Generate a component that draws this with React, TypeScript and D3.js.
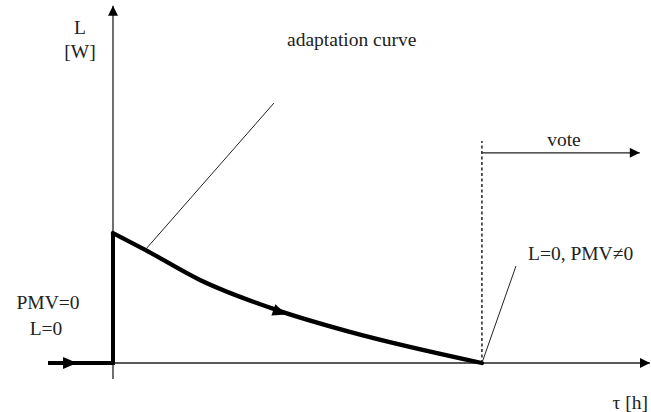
import React, { useRef, useEffect } from "react";
import * as d3 from "d3";

// adaptation curve (tau in h, L in W, arbitrary units)
const curveTau = [0, 0.6, 1.62, 3.11, 4.41, 6.87];
const curveL = [3.63, 3.16, 2.32, 1.45, 0.87, 0];
const startTau = -1.21; // steady state before the step
const leftArrowTau = -0.8;
const voteTau = 6.87;
const voteEndTau = 9.81;
const voteL = 5.87;
const dashTopL = 6.2;
const arrowIdx = 3; // arrow on the curve

const App = () => {
  const ref = useRef<SVGSVGElement>(null);

  useEffect(() => {
    const width = 651;
    const height = 412;
    const svg = d3.select(ref.current);
    svg.selectAll("*").remove();

    const x = d3.scaleLinear().domain([0, 10]).range([113, 650]);
    const y = d3.scaleLinear().domain([0, 10]).range([363, 5]);
    const font = "Liberation Serif, DejaVu Serif, Times New Roman, serif";

    const defs = svg.append("defs");
    defs
      .append("marker")
      .attr("id", "head")
      .attr("viewBox", "0 0 10 10")
      .attr("refX", 10)
      .attr("refY", 5)
      .attr("markerWidth", 11)
      .attr("markerHeight", 10)
      .attr("markerUnits", "userSpaceOnUse")
      .attr("orient", "auto")
      .append("path")
      .attr("d", "M0,0 L10,5 L0,10 Z")
      .attr("fill", "#000");

    // axes
    svg
      .append("line")
      .attr("x1", x(0))
      .attr("x2", x(0))
      .attr("y1", y(-0.45))
      .attr("y2", y(9.98))
      .attr("stroke", "#222")
      .attr("stroke-width", 1.3)
      .attr("marker-end", "url(#head)");
    svg
      .append("line")
      .attr("x1", x(0))
      .attr("x2", x(10))
      .attr("y1", y(0))
      .attr("y2", y(0))
      .attr("stroke", "#222")
      .attr("stroke-width", 1.3)
      .attr("marker-end", "url(#head)");

    // dashed vote boundary + vote arrow
    svg
      .append("line")
      .attr("x1", x(voteTau))
      .attr("x2", x(voteTau))
      .attr("y1", y(0))
      .attr("y2", y(dashTopL))
      .attr("stroke", "#222")
      .attr("stroke-width", 1.5)
      .attr("stroke-dasharray", "3,2.5");
    svg
      .append("line")
      .attr("x1", x(voteTau))
      .attr("x2", x(voteEndTau))
      .attr("y1", y(voteL))
      .attr("y2", y(voteL))
      .attr("stroke", "#222")
      .attr("stroke-width", 1.3)
      .attr("marker-end", "url(#head)");

    // thick step + curve
    const line = d3
      .line<[number, number]>()
      .x((d) => x(d[0]))
      .y((d) => y(d[1]));
    const step: [number, number][] = [
      [startTau, 0],
      [0, 0],
      [0, curveL[0]],
    ];
    svg
      .append("path")
      .attr("d", line(step))
      .attr("fill", "none")
      .attr("stroke", "#000")
      .attr("stroke-width", 4)
      .attr("stroke-linejoin", "miter");

    const pts: [number, number][] = curveTau.map((t, i) => [t, curveL[i]]);
    svg
      .append("path")
      .attr("d", line.curve(d3.curveMonotoneX)(pts))
      .attr("fill", "none")
      .attr("stroke", "#000")
      .attr("stroke-width", 4.3)
      .attr("stroke-linecap", "round");

    // arrowheads along the thick line
    const tri = "M-7,-6 L7,0 L-7,6 Z";
    svg
      .append("path")
      .attr("d", tri)
      .attr("transform", `translate(${x(leftArrowTau)},${y(0)})`)
      .attr("fill", "#000");
    const p0 = pts[arrowIdx - 1];
    const p1 = pts[arrowIdx + 1];
    const ang =
      (Math.atan2(y(p1[1]) - y(p0[1]), x(p1[0]) - x(p0[0])) * 180) / Math.PI;
    svg
      .append("path")
      .attr("d", tri)
      .attr(
        "transform",
        `translate(${x(pts[arrowIdx][0])},${y(pts[arrowIdx][1]) + 1}) rotate(${ang})`
      )
      .attr("fill", "#000");

    // leader lines
    svg
      .append("line")
      .attr("x1", x(0.6))
      .attr("y1", y(3.16))
      .attr("x2", 274)
      .attr("y2", 103)
      .attr("stroke", "#222")
      .attr("stroke-width", 1);
    svg
      .append("line")
      .attr("x1", x(voteTau))
      .attr("y1", y(0))
      .attr("x2", 516)
      .attr("y2", 266)
      .attr("stroke", "#222")
      .attr("stroke-width", 1);

    // labels
    const txt = (s: string, tx: number, ty: number, anchor = "start") =>
      svg
        .append("text")
        .attr("x", tx)
        .attr("y", ty)
        .attr("text-anchor", anchor)
        .style("font-family", font)
        .style("font-size", "19.5px")
        .attr("fill", "#222")
        .text(s);

    txt("L", 80, 34, "middle");
    txt("[W]", 80, 58, "middle");
    txt("adaptation curve", 287, 46);
    txt("vote", 564, 146, "middle");
    txt("L=0, PMV\u22600", 528, 260);
    txt("PMV=0", 48, 309, "middle");
    txt("L=0", 46, 335, "middle");
    txt("\u03c4 [h]", 648, 409, "end");

    svg.attr("width", width).attr("height", height);
  }, []);

  return (
    <svg
      ref={ref}
      width={651}
      height={412}
      style={{ position: "absolute", left: 0, top: 0, background: "#fff" }}
    />
  );
};

export default App;
